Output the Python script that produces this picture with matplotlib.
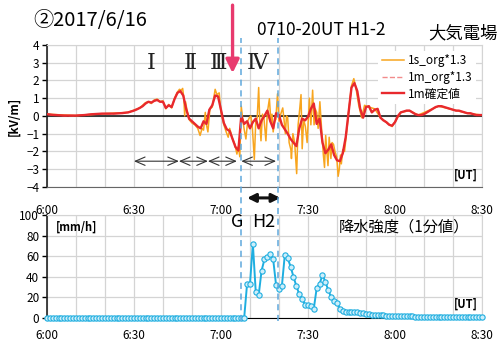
import matplotlib.pyplot as plt
import numpy as np
from matplotlib.lines import Line2D

plt.rcParams['font.family'] = ['Noto Sans CJK JP', 'DejaVu Sans']

# minutes after 6:00 UT
minutes = np.arange(0, 151)

# 1-minute electric field [kV/m]
e1m = [
    0.10, 0.08, 0.06, 0.05, 0.04, 0.03, 0.02, 0.02, 0.02, 0.02,
    0.02, 0.03, 0.04, 0.05, 0.07, 0.09, 0.10, 0.11, 0.12, 0.13,
    0.13, 0.13, 0.13, 0.13, 0.14, 0.15, 0.16, 0.18, 0.20, 0.25,
    0.30, 0.37, 0.45, 0.55, 0.70, 0.80, 0.75, 0.85, 0.90, 0.80,
    0.80, 0.45, 0.60, 0.50, 0.95, 1.30, 1.40, 1.15, 0.40, -0.15,
    -0.30, -0.45, -0.60, -0.70, -0.30, -0.45, 0.35, 0.60, 1.15, 1.10,
    0.35, -0.40, -0.75, -0.85, -1.30, -1.75, -1.95, 0.00, -0.45, -0.30,
    -0.70, -0.35, -0.15, -0.70, -0.25, 0.00, 0.30, -0.30, -0.70, 0.15,
    0.05, -0.50, -0.75, -1.00, -1.30, -1.50, -1.70, -0.70, -0.15, -0.25,
    -0.05, 0.40, 0.70, -0.45, -0.15, -1.50, -2.10, -1.90, -1.60, -2.20,
    -2.50, -2.55, -2.10, -1.20, 0.20, 1.60, 1.85, 1.40, 0.40, -0.10,
    0.50, 0.55, 0.20, 0.35, 0.40, -0.10, -0.25, -0.35, -0.50, -0.55,
    -0.35, 0.00, 0.20, 0.25, 0.30, 0.30, 0.20, 0.10, 0.05, 0.05,
    0.10, 0.20, 0.30, 0.40, 0.50, 0.55, 0.55, 0.50, 0.45, 0.40,
    0.35, 0.30, 0.30, 0.25, 0.20, 0.15, 0.15, 0.10, 0.05, 0.05,
    0.05,
]

# 1-second field (x1.3), sampled where it departs from the 1-minute curve
e1s_t = [
    0, 10, 20, 28, 32, 34, 35, 36, 37, 38, 39, 40, 41, 42, 43, 44, 45,
    45.7, 46.3, 46.8, 47.2, 47.5, 47.8, 48.3, 49, 50, 51, 52, 52.8, 53.5,
    54, 54.6, 55, 55.5, 56.2, 57, 58, 58.6, 59.4, 60, 61, 61.8, 62.5, 63,
    63.5, 64, 64.8, 65.5, 66, 66.5, 67, 67.5, 68, 68.6, 69.2, 69.8, 70.3,
    70.8, 71.5, 72, 72.5, 73, 73.4, 73.8, 74.3, 74.8, 75.5, 76, 76.7, 77.2,
    77.6, 78, 78.5, 78.9, 79.5, 80, 80.6, 81.3, 81.8, 82.2, 82.6, 83, 83.5,
    84.1, 84.3, 84.8, 85.4, 86.1, 86.6, 87.1, 87.6, 88, 88.5, 89.1, 89.7,
    90.2, 90.5, 91, 91.6, 92.1, 92.5, 93, 93.5, 94.1, 94.6, 95.3, 95.7,
    96.1, 96.5, 96.9, 97.3, 97.9, 98.3, 98.8, 99.3, 99.9, 100.4, 100.8,
    101.2, 101.5, 102, 102.6, 103.2, 104, 105, 105.8, 106.5, 107.5, 108.5,
    109.5, 111, 113, 115, 119, 122, 125, 128, 135, 140, 145, 150,
]
e1s_v = [
    0.10, 0.02, 0.13, 0.20, 0.45, 0.75, 0.80, 0.70, 0.90, 0.95, 0.80, 0.85,
    0.40, 0.65, 0.45, 1.00, 1.35, 1.50, 1.45, 1.55, 1.00, 0.00, 0.80, 0.30,
    -0.20, -0.40, -0.50, -0.70, -1.10, -0.70, -0.80, 0.20, -0.50, -0.90,
    0.40, 0.50, 1.50, 1.20, 1.30, 0.20, -0.50, -0.90, -1.20, -0.70, -1.00,
    -1.30, -1.60, -2.15, -1.70, -2.30, 0.55, -0.20, -0.75, -1.30, -0.30,
    -0.10, 0.00, -0.60, -2.45, -0.30, -0.10, 1.60, -0.40, -1.40, 0.10,
    -0.10, -1.40, 0.20, 0.97, -0.30, 0.10, -0.90, -0.30, -0.20, 1.25,
    -0.30, 0.10, 0.45, -0.30, -1.00, 0.00, -0.10, -1.50, -1.90, -2.40,
    -1.00, -1.50, -3.25, -0.50, 0.30, 1.20, -1.85, -0.20, -0.60, -1.50,
    0.10, 1.00, -0.50, 1.45, -0.50, 0.40, 0.20, -0.70, 0.80, -0.50, -2.20,
    -2.90, -1.10, -2.00, -2.80, -1.20, -2.40, -1.50, -1.60, -2.00, -2.30,
    -3.40, -3.00, -2.20, -2.70, -1.90, -2.00, -1.10, 0.20, 1.70, 2.10,
    1.60, 0.60, -0.10, 0.60, 0.50, 0.40, -0.10, -0.60, 0.20, 0.30, 0.05,
    0.55, 0.35, 0.15, 0.05,
]

# 1-minute rainfall intensity [mm/h]
rain = (
    [0.0] * 69
    + [33, 33, 72, 25, 22, 46, 57, 59, 62, 57,
       32, 28, 31, 61, 58, 50, 40, 31, 23, 18,
       13, 13, 12, 9, 29, 33, 42, 35, 27, 20,
       16, 15, 9, 7, 5.5, 5.5, 5.5, 5.5, 5.5, 5.0,
       4.5, 4.0, 3.5, 3.0, 2.5, 2.5, 2.5, 2.5, 2.0, 2.0,
       2.0, 2.0, 2.0, 1.8, 1.8, 1.6, 1.5, 1.5, 1.4, 1.4,
       1.3, 1.2, 1.2, 1.1, 1.0, 1.0, 1.0, 0.9, 0.9, 0.9,
       0.8, 0.8, 0.8, 0.8, 0.8, 0.7, 0.7, 0.7, 0.7, 0.7,
       0.7, 0.7]
)

tick_minutes = [0, 30, 60, 90, 120, 150]
tick_labels = ['6:00', '6:30', '7:00', '7:30', '8:00', '8:30']
event_lines = [67, 79.7]                                   # dashed markers
phase_spans = [(30, 45.5), (45.5, 55.5), (55.5, 65.5), (67, 79)]
phase_names = ['Ⅰ', 'Ⅱ', 'Ⅲ', 'Ⅳ']
phase_label_x = [36, 49.5, 59, 72.5]
arrival_min = 64                                           # pink arrow
h2_span = (69, 80.5)

grid_c = '#d4d4d4'
orange = '#f8a51e'
red = '#e8292d'
blue = '#1eaee0'
dash_blue = '#5fa8dc'

fig = plt.figure(figsize=(4.99, 3.43), dpi=100)
ax1 = fig.add_axes([0.094, 0.455, 0.872, 0.414])
ax2 = fig.add_axes([0.094, 0.073, 0.872, 0.300])


def fig_x(t):
    # figure-fraction x of a time on the shared axis
    return fig.transFigure.inverted().transform(ax1.transData.transform((t, 0)))[0]


for ax in (ax1, ax2):
    ax.set_xlim(0, 150)
    ax.set_xticks(range(0, 151, 10))
    ax.set_xticklabels([tick_labels[tick_minutes.index(t)] if t in tick_minutes else ''
                        for t in range(0, 151, 10)], fontsize=8.5)
    ax.grid(True, color=grid_c, lw=0.9)
    ax.set_axisbelow(True)
    ax.tick_params(axis='x', length=0)
    ax.tick_params(axis='y', length=3.5, width=1, direction='out', labelsize=8.5, pad=2)
    for s in ('top', 'right'):
        ax.spines[s].set_color(grid_c)
    ax.spines['left'].set_color('#222222')
    ax.spines['left'].set_linewidth(1.2)

# electric field panel
ax1.set_ylim(-4, 4)
ax1.set_yticks(range(-4, 5))
ax1.tick_params(axis='x', pad=12)
ax1.spines['bottom'].set_color('#666666')
ax1.axhline(0, color='#1a1a1a', lw=1.2, zorder=3)
ax1.plot(e1s_t, e1s_v, color=orange, lw=1.1, label='1s_org*1.3', zorder=4)
ax1.plot(minutes, e1m, color='#f28b8b', lw=1.0, ls='--', label='1m_org*1.3', zorder=5)
ax1.plot(minutes, e1m, color=red, lw=1.7, label='1m確定値', zorder=6)
ax1.set_ylabel('[kV/m]', fontsize=8.5, fontweight='bold', labelpad=4)
leg = ax1.legend(loc='upper right', bbox_to_anchor=(1.0, 1.0), fontsize=8.5, frameon=True,
                 handlelength=1.9, handletextpad=0.3, labelspacing=0.3, borderpad=0.3)
leg.get_frame().set_edgecolor('none')
leg.get_frame().set_alpha(1)
ax1.text(0.99, 0.04, '[UT]', transform=ax1.transAxes, ha='right', va='bottom',
         fontsize=8, fontweight='bold')

for name, x in zip(phase_names, phase_label_x):
    ax1.text(x, 3.0, name, ha='center', va='center', fontsize=16,
             family=['DejaVu Serif', 'Noto Sans CJK JP'], color='#222222')

for a, b in phase_spans:
    ax1.annotate('', xy=(b, -2.55), xytext=(a, -2.55),
                 arrowprops=dict(arrowstyle='<->,head_length=0.7,head_width=0.3',
                                 color='#333333', lw=0.8, shrinkA=0, shrinkB=0))

# rainfall panel
ax2.set_ylim(0, 100)
ax2.set_yticks(range(0, 101, 20))
ax2.tick_params(axis='x', pad=8)
ax2.plot(minutes, rain, color=blue, lw=1.4, marker='o', ms=3.8, mfc='#cdeefa',
         mec=blue, mew=0.8, clip_on=False, zorder=5)
ax2.text(0.02, 0.88, '[mm/h]', transform=ax2.transAxes, ha='left', va='center',
         fontsize=8, fontweight='bold')
ax2.text(0.97, 0.88, '降水強度（1分値）', transform=ax2.transAxes, ha='right', va='center',
         fontsize=11)
ax2.text(0.99, 0.07, '[UT]', transform=ax2.transAxes, ha='right', va='bottom',
         fontsize=8, fontweight='bold')

# dashed event lines across both panels
for t in event_lines:
    xf = fig_x(t)
    fig.add_artist(Line2D([xf, xf], [0.063, 0.89], transform=fig.transFigure,
                          color=dash_blue, lw=1.1, ls=(0, (4, 3))))

# bold span arrow and G / H2 labels between the panels
fig.add_artist(plt.matplotlib.patches.FancyArrowPatch(
    (fig_x(h2_span[0]), 0.423), (fig_x(h2_span[1]), 0.423), transform=fig.transFigure,
    arrowstyle='<|-|>,head_length=5,head_width=2.5', color='#111111', lw=2.2,
    shrinkA=0, shrinkB=0))
fig.text(fig_x(65.5), 0.352, 'G', ha='center', va='center', fontsize=13)
fig.text(fig_x(74.8), 0.352, 'H2', ha='center', va='center', fontsize=13)

# pink arrow marking the onset
xa = fig_x(arrival_min)
fig.add_artist(plt.matplotlib.patches.FancyArrowPatch(
    (xa, 0.985), (xa, 0.787), transform=fig.transFigure,
    arrowstyle='-|>,head_length=8,head_width=4', color='#e83a6e', lw=2.4,
    shrinkA=0, shrinkB=0))

fig.text(0.067, 0.94, '②2017/6/16', ha='left', va='center', fontsize=14.5)
fig.text(0.515, 0.912, '0710-20UT H1-2', ha='left', va='center', fontsize=12.5)
fig.text(0.998, 0.902, '大気電場', ha='right', va='center', fontsize=12.5)

fig.savefig('out.png', dpi=100)
